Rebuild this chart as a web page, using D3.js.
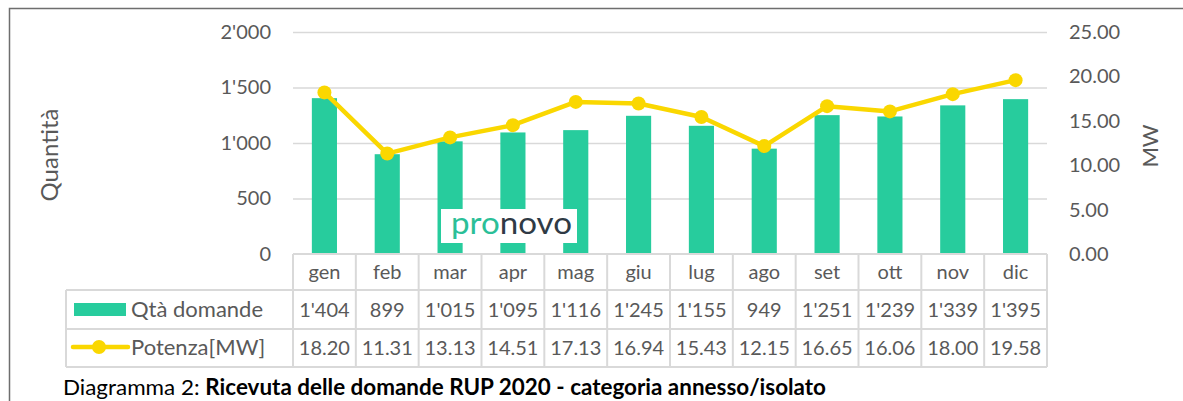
<!DOCTYPE html>
<html>
<head>
<meta charset="utf-8">
<script src="https://cdn.jsdelivr.net/npm/d3@7"></script>
<style>
  body { margin: 0; background: #fff; }
  svg { display: block; font-family: Lato, "Open Sans", sans-serif; }
</style>
</head>
<body>
<svg width="1183" height="401"></svg>
<script>
// data
const months = ["gen", "feb", "mar", "apr", "mag", "giu", "lug", "ago", "set", "ott", "nov", "dic"];
const domande = [1404, 899, 1015, 1095, 1116, 1245, 1155, 949, 1251, 1239, 1339, 1395];
const potenza = [18.20, 11.31, 13.13, 14.51, 17.13, 16.94, 15.43, 12.15, 16.65, 16.06, 18.00, 19.58];
const leftTicks = [0, 500, 1000, 1500, 2000];
const rightTicks = [0, 5, 10, 15, 20, 25];

const svg = d3.select("svg");
const green = "#27cc9d", yellow = "#fad700", textCol = "#595959", gridCol = "#d9d9d9";

// swiss style thousands separator
const loc = d3.formatLocale({ decimal: ".", thousands: "'", grouping: [3], currency: ["", ""] });
const fmtInt = loc.format(",d");
const fmtDec = d3.format(".2f");

const plotL = 293, plotR = 1047, plotT = 32, plotB = 254;

const x = d3.scaleBand().domain(months).range([plotL, plotR]).padding(0);
const yL = d3.scaleLinear().domain([0, 2000]).range([plotB, plotT]);
const yR = d3.scaleLinear().domain([0, 25]).range([plotB, plotT]);

// outer frame (top + left edges visible)
svg.append("path")
  .attr("d", "M9.5,401 L9.5,8.5 L1183,8.5")
  .attr("fill", "none").attr("stroke", "#6e6e6e").attr("stroke-width", 1.5);

// gridlines
const grid = svg.append("g")
  .attr("transform", `translate(${plotL},0)`)
  .call(d3.axisLeft(yL).tickValues(leftTicks.slice(1)).tickSize(-(plotR - plotL)).tickFormat(""));
grid.select(".domain").remove();
grid.selectAll("line").attr("stroke", gridCol).attr("stroke-width", 1.5);

// left axis
const axL = svg.append("g")
  .attr("transform", `translate(${plotL - 22},0)`)
  .call(d3.axisLeft(yL).tickValues(leftTicks).tickSize(0).tickPadding(0).tickFormat(fmtInt));
axL.select(".domain").remove();
axL.selectAll("text").attr("fill", textCol).style("font-size", "20px").style("font-family", "Lato");

// right axis
const axR = svg.append("g")
  .attr("transform", `translate(${plotR + 22},0)`)
  .call(d3.axisRight(yR).tickValues(rightTicks).tickSize(0).tickPadding(0).tickFormat(fmtDec));
axR.select(".domain").remove();
axR.selectAll("text").attr("fill", textCol).style("font-size", "20px").style("font-family", "Lato");

// axis titles
svg.append("text")
  .attr("transform", `translate(58,${(plotT + plotB) / 2 + 12}) rotate(-90)`)
  .attr("text-anchor", "middle")
  .attr("fill", textCol).style("font-size", "24px")
  .text("Quantità");
svg.append("text")
  .attr("transform", `translate(1158,${(plotT + plotB) / 2 + 3}) rotate(-90)`)
  .attr("text-anchor", "middle")
  .attr("fill", textCol).style("font-size", "22px")
  .text("MW");

// bars
const barW = x.bandwidth() * 0.4;
svg.append("g").selectAll("rect")
  .data(domande)
  .join("rect")
  .attr("x", (d, i) => x(months[i]) + (x.bandwidth() - barW) / 2)
  .attr("y", d => yL(d))
  .attr("width", barW)
  .attr("height", d => plotB - yL(d))
  .attr("fill", green);

// logo watermark
const logo = svg.append("g");
logo.append("rect").attr("x", 441).attr("y", 209).attr("width", 136).attr("height", 34).attr("fill", "#fff");
logo.append("text")
  .attr("x", 451).attr("y", 234)
  .attr("textLength", 121).attr("lengthAdjust", "spacingAndGlyphs")
  .style("font-family", "Lato").style("font-size", "30px").style("font-weight", 400)
  .call(t => {
    t.append("tspan").attr("fill", "#2bbf98").text("pro");
    t.append("tspan").attr("fill", "#2f3a45").text("novo");
  });

// line + markers
const line = d3.line()
  .x((d, i) => x(months[i]) + x.bandwidth() / 2)
  .y(d => yR(d));
svg.append("path")
  .datum(potenza)
  .attr("d", line)
  .attr("fill", "none").attr("stroke", yellow).attr("stroke-width", 4.5)
  .attr("stroke-linejoin", "round");
svg.append("g").selectAll("circle")
  .data(potenza)
  .join("circle")
  .attr("cx", (d, i) => x(months[i]) + x.bandwidth() / 2)
  .attr("cy", d => yR(d))
  .attr("r", 7)
  .attr("fill", yellow);

// data table
const rowY = [254, 290, 329, 367];
const tableLeft = 66;
const tbl = svg.append("g").attr("stroke", gridCol).attr("stroke-width", 2);
tbl.append("line").attr("x1", plotL).attr("x2", plotR).attr("y1", rowY[0]).attr("y2", rowY[0]);
rowY.slice(1).forEach(yy => {
  tbl.append("line").attr("x1", tableLeft).attr("x2", plotR).attr("y1", yy).attr("y2", yy);
});
const edges = months.map(m => x(m)).concat([plotR]);
edges.forEach(xx => {
  tbl.append("line").attr("x1", xx).attr("x2", xx).attr("y1", rowY[0]).attr("y2", rowY[3]);
});
tbl.append("line").attr("x1", tableLeft).attr("x2", tableLeft).attr("y1", rowY[1]).attr("y2", rowY[3]);

const cellText = (vals, baseline) => svg.append("g").selectAll("text")
  .data(vals)
  .join("text")
  .attr("x", (d, i) => x(months[i]) + x.bandwidth() / 2)
  .attr("y", baseline)
  .attr("text-anchor", "middle")
  .attr("fill", textCol).style("font-size", "20px")
  .text(d => d);

cellText(months, 279);
cellText(domande.map(fmtInt), 317);
cellText(potenza.map(fmtDec), 355);

// legend keys inside the table
svg.append("rect").attr("x", 74).attr("y", 303).attr("width", 52).attr("height", 13).attr("fill", green);
svg.append("line").attr("x1", 73).attr("x2", 128).attr("y1", 347).attr("y2", 347)
  .attr("stroke", yellow).attr("stroke-width", 4.5).attr("stroke-linecap", "round");
svg.append("circle").attr("cx", 99).attr("cy", 347).attr("r", 7).attr("fill", yellow);
svg.append("text").attr("x", 131).attr("y", 317).attr("fill", textCol).style("font-size", "22px").text("Qtà domande");
svg.append("text").attr("x", 131).attr("y", 355).attr("fill", textCol).style("font-size", "22px").text("Potenza[MW]");

// caption
const cap = svg.append("text")
  .attr("x", 63).attr("y", 395)
  .attr("textLength", 763).attr("lengthAdjust", "spacingAndGlyphs")
  .attr("fill", "#000").style("font-size", "22px");
cap.append("tspan").text("Diagramma 2: ");
cap.append("tspan").style("font-weight", 700).text("Ricevuta delle domande RUP 2020 - categoria annesso/isolato");
</script>
</body>
</html>
